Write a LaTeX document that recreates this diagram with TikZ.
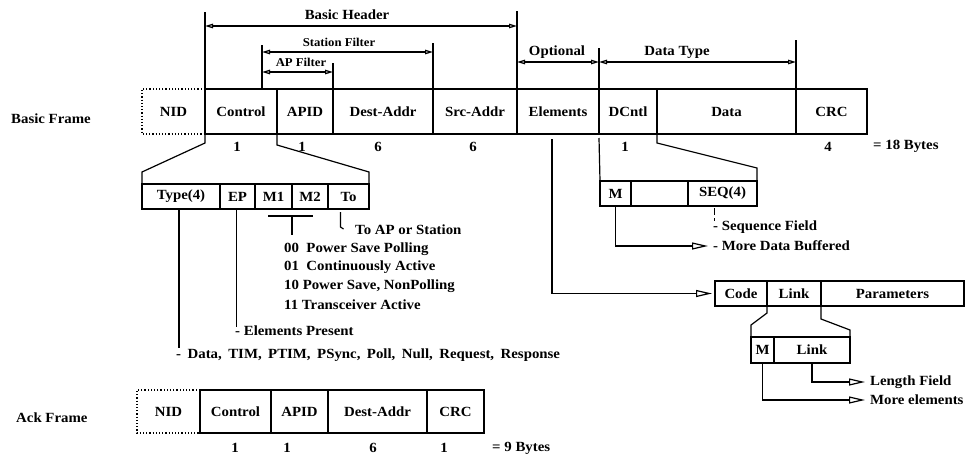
\documentclass[tikz,border=0pt]{standalone}
\usepackage{fontspec}
\setmainfont{Liberation Serif}[FakeStretch=1.06]
\usetikzlibrary{arrows.meta,calc}
\newcommand\fieldbox[6]{%
  \node[fld, minimum width={#3-#2}, minimum height={#5-#4}] (#1) at (#2,#4) {#6};}
\begin{document}
\begin{tikzpicture}[x=1pt,y=-1pt,
  fld/.style={draw, line width=1.6pt, inner sep=0pt, outer sep=0pt, anchor=north west,
    font=\fontsize{14}{16}\selectfont\bfseries},
  lbl/.style={inner sep=0pt, font=\fontsize{14}{16}\selectfont\bfseries},
  sml/.style={inner sep=0pt, font=\fontsize{12}{14}\selectfont\bfseries},
  bar/.style={line width=1.2pt},
  con/.style={line width=1.2pt},
  dotbox/.style={line width=1.2pt, dotted},
  harr/.style={line width=1.2pt, {Triangle[open,length=8pt,width=4.5pt]}-{Triangle[open,length=8pt,width=4.5pt]}},
  barr/.style={line width=1.2pt, -{Triangle[open,length=16pt,width=7pt]}, shorten >=5pt},
]
\useasboundingbox (0,0) rectangle (966,455);

% ---------- Basic frame ----------
\node[lbl, anchor=west] (bflbl) at (11,119) {Basic Frame};
\node[fld, draw=none, minimum width=63, minimum height=45] (nid) at (142,89) {NID};
\draw[dotbox] (nid.north east) -- (nid.north west) -- (nid.south west) -- (nid.south east);
\fieldbox{ctl}{205}{277}{89}{134}{Control}
\fieldbox{apid}{277}{333}{89}{134}{APID}
\fieldbox{dest}{333}{433}{89}{134}{Dest-Addr}
\fieldbox{src}{433}{517}{89}{134}{Src-Addr}
\fieldbox{elem}{517}{599}{89}{134}{Elements}
\fieldbox{dcnt}{599}{657}{89}{134}{DCntl}
\fieldbox{data}{657}{796}{89}{134}{Data}
\fieldbox{crc}{796}{867}{89}{134}{CRC}

\node[lbl] (n1) at (237,147) {1};
\node[lbl] (n2) at (302,147) {1};
\node[lbl] (n3) at (378,147) {6};
\node[lbl] (n4) at (473,147) {6};
\node[lbl] (n5) at (625,147) {1};
\node[lbl] (n6) at (828,147) {4};
\node[lbl, anchor=west] (tot) at (873,146) {= 18 Bytes};

% ---------- header spans ----------
\coordinate (sfx) at (262,89);
\coordinate (rBH) at (0,26);
\coordinate (rSF) at (0,52);
\coordinate (rAP) at (0,72);
\coordinate (rOP) at (0,62);
\draw[bar] (ctl.north west) -- ++(0,-77);
\draw[bar] (src.north east) -- ++(0,-78);
\draw[bar] (sfx) -- ++(0,-44);
\draw[bar] (dest.north east) -- ++(0,-46);
\draw[bar] (apid.north east) -- ++(0,-26);
\draw[bar] (elem.north east) -- ++(0,-41);
\draw[bar] (data.north east) -- ++(0,-49);
\draw[harr] (ctl.north west |- rBH) -- (src.north east |- rBH);
\draw[harr] (sfx |- rSF) -- (dest.north east |- rSF);
\draw[harr] (sfx |- rAP) -- (apid.north east |- rAP);
\draw[harr] (src.north east |- rOP) -- (elem.north east |- rOP);
\draw[harr] (elem.north east |- rOP) -- (data.north east |- rOP);
\node[lbl] (bh) at (347,15) {Basic Header};
\node[sml] (sf) at (339,42) {Station Filter};
\node[sml] (apf) at (301,62) {AP Filter};
\node[lbl] (opt) at (557,52) {Optional};
\node[lbl] (dt) at (677,52) {Data Type};

% ---------- Control sub-fields ----------
\fieldbox{ty}{142}{220}{184}{209}{Type(4)}
\fieldbox{ep}{220}{255}{184}{209}{EP}
\fieldbox{m1}{255}{292}{184}{209}{M1}
\fieldbox{m2}{292}{328}{184}{209}{M2}
\fieldbox{to}{328}{369}{184}{209}{To\hspace{15pt}}
\draw[con] (ctl.south west) -- ++(0,9) -- ($(ty.north west)+(0,-12)$) -- (ty.north west);
\draw[con] (apid.south west) -- ++(0,11) -- ($(to.north east)+(0,-12)$) -- (to.north east);

\draw[con] ($(m1.south east)+(-24,7)$) -- ($(m1.south east)+(21,7)$);
\draw[con] ($(m1.south east)+(0,7)$) -- ++(0,19);
\node[lbl, anchor=west] (l00) at (284,249) {00\ \ Power Save Polling};
\node[lbl, anchor=west] (l01) at (284,267) {01\ \ Continuously Active};
\node[lbl, anchor=west] (l10) at (284,286) {10 Power Save, NonPolling};
\node[lbl, anchor=west] (l11) at (284,305) {11 Transceiver Active};

\draw[con] ($(to.south)+(-8,3)$) -- ++(0,15) -- ++(3,2);
\node[lbl, anchor=west] (toap) at (355,230) {To AP or Station};

\draw[con] ($(ty.south)+(-2,0)$) -- ++(0,139);
\node[lbl, anchor=west] (tylist) at (176,355) {\spaceskip=6.5pt\relax - Data, TIM, PTIM, PSync, Poll, Null, Request, Response};
\draw[con] ($(ep.south)+(-1,0)$) -- ++(0,118);
\node[lbl, anchor=west] (epl) at (235,331) {- Elements Present};

% ---------- DCntl sub-fields ----------
\fieldbox{mm}{600}{631}{181}{206}{M}
\fieldbox{mb}{631}{688}{181}{206}{}
\fieldbox{seq}{688}{757}{181}{206}{SEQ(4)}
\draw[con] ($(dcnt.south west)+(0,4)$) -- (mm.north west);
\draw[con] (dcnt.south east) -- ++(0,9) -- ($(seq.north east)+(0,-13)$) -- (seq.north east);
\draw[con, dash pattern=on 7pt off 3pt] ($(seq.south)+(-8,2)$) -- ++(0,13);
\node[lbl, anchor=west] (sqf) at (713,227) {- Sequence Field};
\node[lbl, anchor=west] (mdb) at (713,246) {- More Data Buffered};
\draw[barr] (mm.south) |- (mdb.west);

% ---------- Elements ----------
\fieldbox{code}{715}{767}{281}{306}{Code}
\fieldbox{link}{767}{821}{281}{306}{Link}
\fieldbox{par}{821}{964}{281}{306}{Parameters}
\draw[barr, shorten >=3pt] ($(elem.south)+(-6,5)$) |- (code.west);

\fieldbox{lm}{751}{774}{337}{363}{M}
\fieldbox{ll}{774}{850}{337}{363}{Link}
\draw[con] (link.south west) -- ++(0,7) -- ($(lm.north west)+(0,-12)$) -- (lm.north west);
\draw[con] (link.south east) -- ++(0,13) -- ($(ll.north east)+(0,-7)$) -- (ll.north east);
\node[lbl, anchor=west] (lf) at (870,382) {Length Field};
\node[lbl, anchor=west] (me) at (870,400) {More elements};
\draw[barr] (ll.south) |- (lf.west);
\draw[barr] (lm.south) |- (me.west);

% ---------- Ack frame ----------
\node[lbl, anchor=west] (aflbl) at (16,418) {Ack Frame};
\node[fld, draw=none, minimum width=63, minimum height=43] (anid) at (137,390) {NID};
\draw[dotbox] (anid.north east) -- (anid.north west) -- (anid.south west) -- (anid.south east);
\fieldbox{actl}{200}{271}{390}{433}{Control}
\fieldbox{aapid}{271}{328}{390}{433}{APID}
\fieldbox{adest}{328}{427}{390}{433}{Dest-Addr}
\fieldbox{acrc}{427}{484}{390}{433}{CRC}
\node[lbl] (a1) at (235,448) {1};
\node[lbl] (a2) at (287,448) {1};
\node[lbl] (a3) at (373,448) {6};
\node[lbl] (a4) at (444,448) {1};
\node[lbl, anchor=west] (atot) at (492,448) {= 9 Bytes};
\end{tikzpicture}
\end{document}
